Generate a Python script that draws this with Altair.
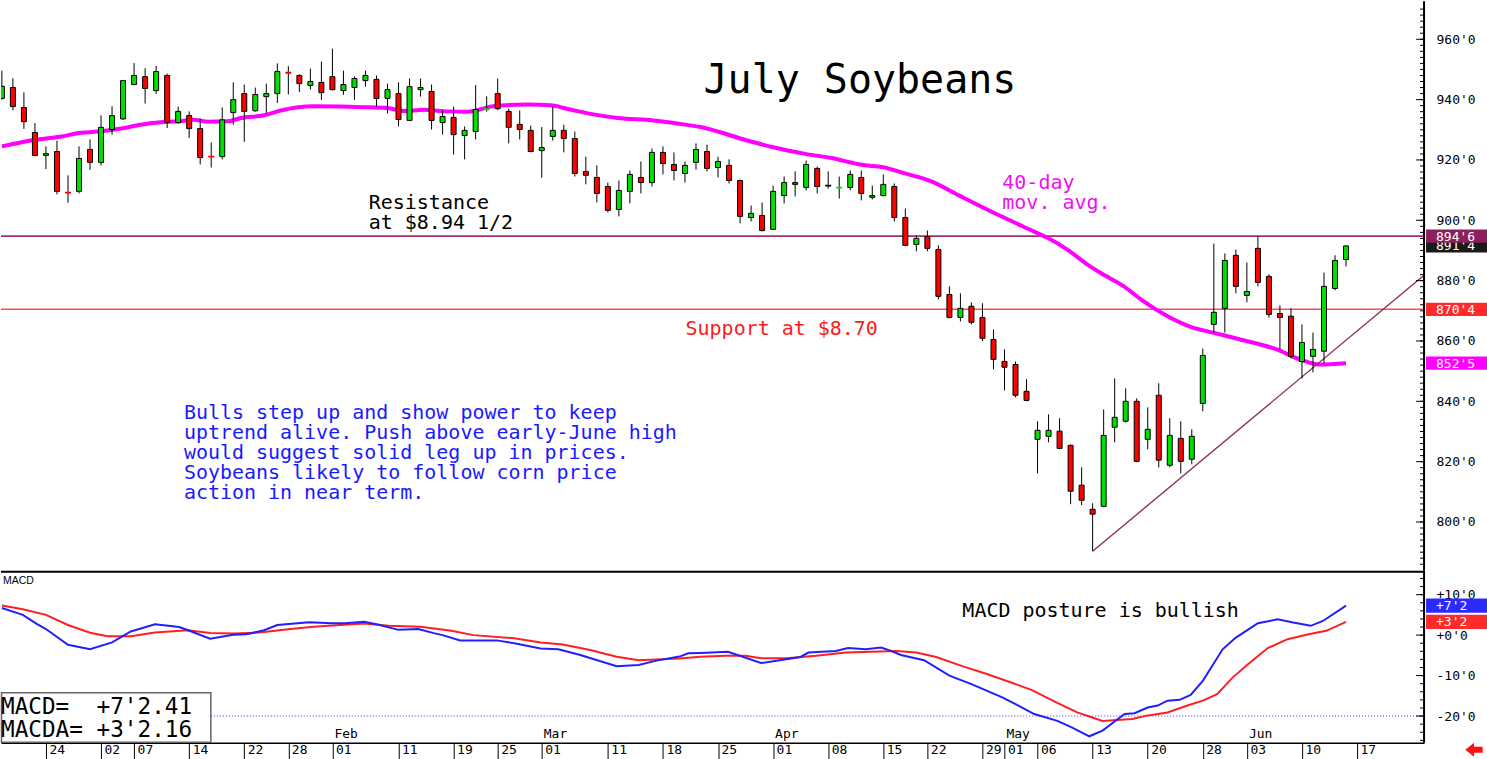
import altair as alt
import pandas as pd
import numpy as np

MONO = "DejaVu Sans Mono"
SANS = "Liberation Sans"
GREEN = "#00e000"
RED = "#ff0000"
NB = "\u00a0"

# ---------------- data (trading-day index 0 = 18 Dec 2018 ... 122 = 14 Jun 2019) ----------------
opens = [940.4, 944.0, 937.4, 929.1, 921.5, 922.8, 909.5, 909.6, 923.5, 919.2,
         930.1, 933.6, 945.0, 947.6, 943.0, 948.0, 932.4, 934.7, 930.4, 921.4,
         921.1, 935.7, 942.0, 936.3, 941.0, 942.0, 949.1, 948.0, 944.7, 945.7,
         947.6, 943.0, 944.0, 946.3, 946.7, 940.4, 942.0, 933.1, 943.3, 942.7,
         932.4, 934.1, 928.1, 929.4, 936.4, 942.0, 936.1, 931.8, 929.8, 923.1,
         927.8, 929.8, 927.1, 916.2, 914.2, 911.2, 903.6, 909.6, 914.2, 912.5,
         922.5, 918.5, 915.5, 919.2, 922.8, 917.5, 918.2, 913.2, 900.9, 901.6,
         897.0, 908.2, 912.5, 910.9, 917.2, 911.5, 910.6, 910.9, 914.2, 907.6,
         908.2, 911.2, 900.9, 892.0, 894.6, 890.3, 875.4, 867.8, 871.5, 867.8,
         860.5, 853.2, 852.2, 843.3, 827.4, 828.4, 830.1, 825.4, 812.2, 804.2,
         805.2, 831.4, 833.4, 840.0, 827.4, 842.0, 818.8, 827.7, 820.8, 839.3,
         865.5, 870.8, 888.4, 875.1, 890.7, 881.4, 869.1, 868.2, 853.2, 854.9,
         856.6, 877.4, 887.0]
highs = [949.6, 947.1, 942.4, 932.2, 924.5, 926.4, 914.9, 924.5, 926.8, 934.8,
         937.8, 946.5, 952.1, 950.4, 951.2, 948.6, 937.7, 936.1, 933.7, 925.8,
         937.4, 945.7, 945.0, 944.0, 945.3, 952.0, 951.1, 948.4, 950.3, 952.6,
         956.9, 949.6, 947.7, 949.6, 948.0, 945.3, 945.7, 947.0, 947.0, 945.0,
         936.4, 937.7, 931.1, 944.8, 941.1, 947.0, 937.0, 936.4, 931.4, 930.9,
         937.8, 931.7, 929.4, 921.1, 918.2, 912.5, 913.2, 916.5, 919.5, 923.8,
         924.5, 922.5, 919.5, 925.5, 925.1, 921.1, 920.2, 913.5, 904.9, 905.9,
         911.5, 914.5, 916.2, 919.8, 917.8, 916.2, 914.5, 916.5, 916.5, 911.5,
         915.2, 912.2, 903.9, 895.0, 896.6, 891.7, 878.1, 875.8, 872.8, 872.5,
         863.8, 857.2, 853.2, 847.3, 833.4, 835.7, 834.4, 825.7, 818.1, 806.2,
         837.3, 847.6, 844.3, 841.0, 838.0, 846.0, 834.4, 833.4, 830.7, 857.5,
         892.3, 889.0, 890.3, 886.0, 894.75, 882.1, 871.8, 870.8, 865.5, 862.8,
         882.7, 888.4, 891.7]
lows = [940.0, 936.4, 930.3, 921.2, 917.0, 908.6, 905.8, 908.9, 916.7, 918.2,
        928.4, 933.3, 944.8, 938.7, 941.9, 930.6, 931.9, 927.3, 918.5, 917.5,
        920.2, 931.7, 926.0, 936.0, 935.6, 938.9, 941.7, 942.5, 943.3, 939.9,
        943.0, 941.6, 939.9, 944.3, 937.7, 935.4, 931.1, 933.0, 941.0, 930.1,
        928.4, 921.8, 920.2, 926.8, 936.0, 936.5, 925.5, 926.8, 922.5, 914.1,
        926.4, 922.5, 914.5, 911.9, 905.9, 902.6, 901.3, 905.6, 908.9, 911.2,
        915.2, 913.2, 912.5, 916.8, 916.2, 914.2, 912.2, 899.0, 899.6, 896.3,
        896.8, 905.6, 907.9, 909.9, 908.9, 910.5, 907.2, 909.9, 906.6, 906.9,
        907.9, 899.6, 891.5, 889.7, 889.7, 873.8, 867.5, 866.5, 865.5, 859.9,
        850.6, 843.6, 841.3, 840.0, 816.1, 826.4, 824.1, 805.9, 805.6, 790.3,
        804.9, 826.4, 833.0, 819.8, 824.1, 818.1, 818.1, 816.1, 819.1, 836.7,
        862.8, 862.8, 875.8, 872.8, 878.1, 867.8, 857.2, 854.2, 847.6, 849.6,
        852.6, 876.8, 884.7]
closes = [944.4, 937.7, 932.7, 921.5, 922.1, 909.6, 909.2, 920.5, 919.2, 930.8,
          934.7, 946.3, 948.0, 943.7, 949.3, 932.5, 936.1, 930.4, 920.8, 921.1,
          933.3, 940.0, 936.1, 941.7, 942.0, 949.3, 948.9, 945.3, 946.0, 942.3,
          943.3, 945.0, 947.0, 948.0, 940.4, 943.3, 933.4, 944.3, 944.0, 933.1,
          934.4, 928.4, 929.8, 936.7, 936.8, 937.0, 930.8, 930.1, 922.8, 924.1,
          929.8, 927.1, 915.5, 914.9, 908.9, 903.3, 909.9, 915.2, 912.5, 922.5,
          918.8, 916.5, 918.2, 923.5, 917.2, 919.5, 913.2, 901.3, 902.3, 896.6,
          909.6, 912.5, 911.9, 918.5, 911.2, 911.5, 910.8, 915.2, 908.9, 908.2,
          911.9, 900.9, 891.7, 894.0, 890.7, 874.8, 867.8, 870.8, 866.2, 860.9,
          853.9, 851.3, 842.0, 840.3, 830.4, 830.4, 824.4, 810.2, 807.2, 802.6,
          828.7, 834.7, 840.0, 820.1, 830.7, 820.5, 828.7, 820.1, 828.4, 855.2,
          869.5, 886.7, 878.1, 876.4, 879.4, 868.8, 867.8, 854.9, 859.5, 857.2,
          878.1, 886.7, 891.5]

# 40-day moving average
ma_idx = [0, 2.9, 5.1, 7.2, 9, 10.8, 12.6, 14.4, 16, 17.4, 18.7, 20.5, 21.7,
          23.8, 25.3, 28.3, 30.8, 32.8, 35, 36.5, 38.3, 40.5, 42.3, 44.6, 47.7,
          49.8, 51.6, 53.7, 55.9, 59.1, 61.3, 63.4, 67.9, 70, 72.8, 75.2, 78.2,
          80, 81.8, 84.3, 87, 90.6, 93.6, 94.9, 96.7, 98.5, 99.7, 101.8, 103.6,
          105.8, 107.9, 110, 112.4, 115.7, 117.8, 119.6, 122]
ma_val = [924.5, 926.6, 927.6, 929.0, 929.5, 930.4, 931.7, 932.5, 932.8, 933.3,
          932.7, 932.8, 933.9, 934.8, 936.4, 937.8, 937.7, 937.5, 937.2, 936.2,
          936.6, 936.1, 936.0, 937.8, 938.4, 938.1, 936.7, 935.1, 933.9, 933.1,
          932.1, 930.9, 926.2, 924.2, 922.1, 920.7, 918.3, 917.6, 915.7, 913.0,
          908.0, 901.5, 896.4, 894.2, 890.3, 885.4, 882.6, 878.2, 873.2, 868.2,
          864.7, 862.7, 860.5, 857.2, 853.9, 852.2, 852.625]

# MACD (blue) and MACD average (red)
macd_idx = [0, 1.9, 3.2, 4, 6, 8, 10, 11.7, 13.9, 16.1, 16.9, 18.9, 21, 22.2,
            23.8, 25, 27.9, 29.9, 31.1, 32.9, 34.3, 36, 37.8, 39.2, 40, 41.6,
            44.9, 46.5, 48.9, 50.5, 52.5, 55.8, 57.8, 59.4, 61.5, 62.3, 63.4,
            65.9, 68.9, 72.5, 73.2, 75.7, 76.8, 78.4, 79.8, 80.7, 81.6, 83.7,
            86, 88, 90.8, 92.6, 93.7, 95.8, 97.1, 98.7, 99.9, 101.9, 102.8, 104,
            104.9, 105.8, 106.9, 107.9, 109, 110.8, 112, 114, 115.8, 117.2,
            118.8, 119.9, 122]
macd_val = [6.7, 5.0, 2.7, 1.5, -2.4, -3.5, -1.8, 0.9, 2.7, 2.0, 1.2, -0.9, 0.1,
            0.2, 1.2, 2.5, 3.2, 2.95, 2.95, 3.3, 2.5, 1.3, 1.5, 0.5, 0.0, -1.3,
            -1.3, -2.0, -3.3, -3.5, -4.9, -7.7, -7.4, -6.3, -5.3, -4.5, -4.4,
            -4.1, -6.9, -5.4, -4.3, -3.9, -3.2, -3.5, -3.05, -3.9, -4.9, -6.2,
            -10.0, -12.1, -15.4, -17.9, -19.5, -21.2, -22.8, -25.0, -23.6, -19.5,
            -19.3, -17.9, -17.4, -16.2, -16.0, -14.8, -11.3, -3.5, -0.6, 2.95,
            3.9, 3.1, 2.3, 3.5, 7.30]
sig_idx = [0, 1.9, 4, 6, 8, 9.6, 11.7, 13.9, 16.9, 18.9, 21, 23.4, 26.2, 28.3,
           30.7, 32.9, 35.1, 38, 40.8, 42.8, 46.5, 48.9, 50.9, 53.4, 55.8, 57.8,
           59.4, 61.5, 63.4, 65.7, 67.5, 68.9, 71.2, 73.9, 76.6, 78.9, 81.2, 83,
           84.8, 87.1, 89.4, 91.6, 93.5, 95.7, 97.6, 98.9, 99.9, 102.6, 103.9,
           105.8, 107.6, 109, 110.3, 111.7, 113.1, 114.9, 116.7, 118.6, 120.2, 122]
sig_val = [7.3, 6.4, 5.0, 2.5, 0.6, -0.3, -0.3, 0.65, 1.2, 0.5, 0.4, 0.65, 1.5,
           2.05, 2.5, 2.87, 2.3, 2.05, 1.06, 0.0, -0.8, -1.8, -2.3, -3.7, -5.35,
           -6.2, -6.0, -5.8, -5.36, -5.1, -5.1, -5.7, -5.7, -5.1, -4.3, -4.1,
           -3.9, -4.3, -5.4, -7.6, -9.6, -11.7, -13.6, -16.6, -19.1, -20.3,
           -21.2, -20.7, -19.9, -19.1, -17.4, -16.2, -14.6, -10.5, -7.2, -3.2,
           -1.0, 0.24, 1.06, 3.27]

tick_idx = [4, 9, 12, 17, 22, 26, 30, 36, 41, 45, 49, 55, 60, 65, 70, 75, 80, 84,
            89, 91, 94, 99, 104, 109, 113, 118, 123]
tick_lbl = ["24", "02", "07", "14", "22", "28", "01", "11", "19", "25", "01",
            "11", "18", "25", "01", "08", "15", "22", "29", "01", "06", "13",
            "20", "28", "03", "10", "17"]
month_idx = [30, 49, 70, 91, 113]
month_lbl = ["Feb", "Mar", "Apr", "May", "Jun"]

price_ticks = [800, 820, 840, 860, 880, 900, 920, 940, 960]
macd_ticks = [-20, -10, 0, 10]

resistance = 894.75
support = 870.5
trend_idx = [99, 129.08]
trend_val = [790.3, 881.8]
last_close = 891.5
ma_last = 852.625
macd_last = 7.30125
sig_last = 3.27
macd_ref = -20

blue_lines = ["Bulls step up and show power to keep",
              "uptrend alive. Push above early-June high",
              "would suggest solid leg up in prices.",
              "Soybeans likely to follow corn price",
              "action in near term."]


def eighths(v, sign=False):
    w = int(np.floor(v))
    e = int((v - w) * 8 + 1e-9)
    s = f"{w}'{e}"
    return ("+" + s) if (sign and v >= 0) else s


def eighths_dec(v):
    w = int(np.floor(v))
    return f"+{w}'{(v - w) * 8:.2f}"


# ---------------- geometry ----------------
W = 1424
HT = 570
HB = 172
XS = alt.Scale(domain=[-0.08, 129.08], nice=False, zero=False, padding=0)
PS = alt.Scale(domain=[783.8, 972.6], nice=False, zero=False, padding=0)
MS = alt.Scale(domain=[-26.6, 15.88], nice=False, zero=False, padding=0)
ONE = pd.DataFrame({"k": [0]})

price_axis = alt.Axis(values=price_ticks, labelExpr="datum.value + \"'0\"",
                      orient="right", ticks=False, domain=False, grid=False,
                      labelPadding=12, labelFont=MONO, labelFontSize=13,
                      labelColor="black", minExtent=63, maxExtent=63,
                      labelBound=False, labelFlush=False)
label_expr = ("[" + ",".join(f"'{l}'" for l in tick_lbl) + "][indexof(["
              + ",".join(str(i) for i in tick_idx) + "], datum.value)]")
x_axis = alt.Axis(values=tick_idx, labelExpr=label_expr, orient="bottom",
                  tickSize=17, tickColor="black", tickWidth=1,
                  domainColor="black", domainWidth=1.5, grid=False,
                  labelAlign="left", labelBaseline="top", labelPadding=-16,
                  labelOffset=3, labelFont=MONO, labelFontSize=13,
                  labelColor="black", labelOverlap=False, labelFlush=False,
                  labelBound=False, minExtent=17, maxExtent=17)
macd_axis = alt.Axis(values=macd_ticks,
                     labelExpr="(datum.value >= 0 ? '+' : '') + datum.value + \"'0\"",
                     orient="right", ticks=False, domain=False, grid=False,
                     labelPadding=12, labelFont=MONO, labelFontSize=13,
                     labelColor="black", minExtent=63, maxExtent=63,
                     labelBound=False, labelFlush=False)


def XT(field="idx:Q"):
    return alt.X(field, scale=XS, axis=None, title=None)


def XB(field="idx:Q"):
    return alt.X(field, scale=XS, axis=x_axis, title=None)


def YP(field):
    return alt.Y(field, scale=PS, axis=price_axis, title=None)


def YM(field):
    return alt.Y(field, scale=MS, axis=macd_axis, title=None)


def txt(text, x, y, size, color="black", font=MONO, align="left",
        baseline="alphabetic", line_height=None):
    kw = dict(text=text, font=font, fontSize=size, color=color, align=align,
              baseline=baseline)
    if line_height is not None:
        kw["lineHeight"] = line_height
    return alt.Chart(ONE).mark_text(**kw).encode(x=alt.value(x), y=alt.value(y))


def tag(value, label, bg, Y, half, fg="white"):
    d = pd.DataFrame({"v": [value], "lo": [value - half], "hi": [value + half],
                      "t": [label]})
    r = alt.Chart(d).mark_rect(color=bg).encode(
        y=Y("lo:Q"), y2="hi:Q", x=alt.value(W + 2), x2=alt.value(W + 63))
    t = alt.Chart(d).mark_text(color=fg, font=MONO, fontSize=13, align="left",
                               baseline="middle", dy=0.5).encode(
        y=Y("v:Q"), x=alt.value(W + 12), text="t:N")
    return [r, t]


# ---------------- top panel ----------------
cdf = pd.DataFrame({"idx": list(range(len(opens))), "open": opens,
                    "high": highs, "low": lows, "close": closes})
cdf["dir"] = np.where(cdf["close"] > cdf["open"], "up",
                      np.where(cdf["close"] < cdf["open"], "down", "flat"))
cscale = alt.Scale(domain=["up", "down", "flat"], range=[GREEN, RED, "black"])

hl_res = alt.Chart(pd.DataFrame({"v": [resistance]})).mark_rule(
    color="#a3306b", strokeWidth=1.6, clip=True).encode(
    y=YP("v:Q"), x=alt.value(0), x2=alt.value(W))
hl_sup = alt.Chart(pd.DataFrame({"v": [support]})).mark_rule(
    color="#ff4c4c", strokeWidth=1.6, clip=True).encode(
    y=YP("v:Q"), x=alt.value(0), x2=alt.value(W))

ma_line = alt.Chart(pd.DataFrame({"idx": ma_idx, "v": ma_val})).mark_line(
    color="#ff00ff", strokeWidth=4, clip=True, interpolate="monotone").encode(
    x=XT(), y=YP("v:Q"))

wicks = alt.Chart(cdf).mark_rule(color="black", strokeWidth=1, clip=True).encode(
    x=XT(), y=YP("low:Q"), y2="high:Q")

bodies = alt.Chart(cdf).transform_filter(
    "abs(datum.close - datum.open) >= 0.5").mark_bar(
    size=5, stroke="black", strokeWidth=1, clip=True).encode(
    x=XT(), y=YP("open:Q"), y2="close:Q",
    color=alt.Color("dir:N", scale=cscale, legend=None))

doji = alt.Chart(cdf).transform_filter(
    "abs(datum.close - datum.open) < 0.5").transform_calculate(
    lo="datum.close - 0.3", hi="datum.close + 0.3").mark_bar(
    size=6, clip=True).encode(
    x=XT(), y=YP("lo:Q"), y2="hi:Q",
    color=alt.Color("dir:N", scale=cscale, legend=None))

trend = alt.Chart(pd.DataFrame({"idx": trend_idx, "v": trend_val})).mark_line(
    color="#8e2454", strokeWidth=1.3, clip=True).encode(
    x=XT(), y=YP("v:Q"))

pmin = pd.DataFrame({"v": list(range(786, 972, 2))})
pmaj = pd.DataFrame({"v": price_ticks})
ptick_min = alt.Chart(pmin).mark_rule(color="black", strokeWidth=1).encode(
    y=YP("v:Q"), x=alt.value(W - 4), x2=alt.value(W))
ptick_maj = alt.Chart(pmaj).mark_rule(color="black", strokeWidth=1).encode(
    y=YP("v:Q"), x=alt.value(W - 8), x2=alt.value(W))
border_top = alt.Chart(ONE).mark_rule(color="black", strokeWidth=2).encode(
    x=alt.value(W), y=alt.value(0), y2=alt.value(HT))

top_tags = (tag(last_close, eighths(last_close), "#1a1a1a", YP, 2.2)
            + tag(resistance, eighths(resistance), "#8b1f5c", YP, 2.2)
            + tag(support, eighths(support), "#ff2a2a", YP, 2.2)
            + tag(ma_last, eighths(ma_last), "#ff00ff", YP, 2.2))

top_texts = [
    txt("July Soybeans", 703, 92, 40),
    txt(["Resistance", "at $8.94 1/2"], 368, 208, 20, line_height=20),
    txt(["40-day", "mov. avg."], 1002, 188, 20, color="#ee10ee", line_height=20),
    txt("Support at $8.70", 685, 334, 20, color="#ff1a1a"),
    txt(blue_lines, 183, 418, 20, color="#1a1aff", line_height=20),
]

top = alt.layer(hl_res, hl_sup, ma_line, trend, wicks, bodies, doji,
                ptick_min, ptick_maj, border_top, *top_tags, *top_texts
                ).properties(width=W, height=HT)

# ---------------- MACD panel ----------------
ref = alt.Chart(pd.DataFrame({"v": [macd_ref]})).mark_rule(
    color="#3535ff", strokeWidth=1, strokeDash=[1, 2]).encode(
    y=YM("v:Q"), x=alt.value(0), x2=alt.value(W))
blue = alt.Chart(pd.DataFrame({"idx": macd_idx, "v": macd_val})).mark_line(
    color="#1f1fff", strokeWidth=2, clip=True).encode(x=XB(), y=YM("v:Q"))
redl = alt.Chart(pd.DataFrame({"idx": sig_idx, "v": sig_val})).mark_line(
    color="#ff1f1f", strokeWidth=2, clip=True).encode(x=XB(), y=YM("v:Q"))

box = alt.Chart(ONE).mark_rect(fill="white", stroke="#666666", strokeWidth=1.5).encode(
    x=alt.value(0.5), x2=alt.value(210), y=alt.value(122), y2=alt.value(171.5))
box_text = txt([f"MACD={NB}{NB}{eighths_dec(macd_last)}",
                f"MACDA={NB}{eighths_dec(sig_last)}"],
               0, 143, 22.7, line_height=23)

months = alt.Chart(pd.DataFrame({"idx": month_idx, "t": month_lbl})).mark_text(
    font=MONO, fontSize=13, align="left", baseline="alphabetic", dx=2,
    color="black").encode(x=XB(), y=alt.value(167), text="t:N")

mmin = pd.DataFrame({"v": list(range(-26, 16, 2))})
mmaj = pd.DataFrame({"v": macd_ticks})
mtick_min = alt.Chart(mmin).mark_rule(color="black", strokeWidth=1).encode(
    y=YM("v:Q"), x=alt.value(W - 4), x2=alt.value(W))
mtick_maj = alt.Chart(mmaj).mark_rule(color="black", strokeWidth=1).encode(
    y=YM("v:Q"), x=alt.value(W - 8), x2=alt.value(W))
border_bot = alt.Chart(ONE).mark_rule(color="black", strokeWidth=2).encode(
    x=alt.value(W), y=alt.value(0), y2=alt.value(HB))
sep = alt.Chart(ONE).mark_rule(color="black", strokeWidth=2).encode(
    x=alt.value(0), x2=alt.value(W), y=alt.value(1))

bot_tags = (tag(macd_last, eighths(macd_last, True), "#2a2aff", YM, 1.75)
            + tag(sig_last, eighths(sig_last, True), "#ff2a2a", YM, 1.75))

arrow = alt.Chart(ONE).mark_point(
    shape="M -1 0 L 0 -0.8 L 0 -0.35 L 1 -0.35 L 1 0.35 L 0 0.35 L 0 0.8 Z",
    size=300, filled=True, color="#ff1010", opacity=1).encode(
    x=alt.value(1474), y=alt.value(179))

bot_texts = [
    txt("MACD", 2, 13, 10.5, font=SANS),
    txt("MACD posture is bullish", 962, 46, 20),
]

bottom = alt.layer(ref, redl, blue, box, box_text, months, mtick_min, mtick_maj,
                   border_bot, sep, *bot_tags, arrow, *bot_texts
                   ).properties(width=W, height=HB)

chart = alt.vconcat(top, bottom, spacing=0, bounds="flush").properties(
    padding=0, background="white").configure_view(strokeWidth=0)

chart.save("out.html", embed_options={"renderer": "svg", "actions": False})
